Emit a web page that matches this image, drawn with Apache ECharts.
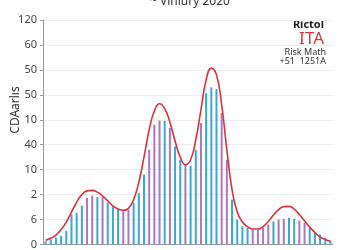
<!DOCTYPE html>
<html><head><meta charset="utf-8">
<script src="https://cdn.jsdelivr.net/npm/echarts@6/dist/echarts.min.js"></script>
<style>html,body{margin:0;padding:0;background:#fff}#c{width:350px;height:250px}</style>
</head><body><div id="c"></div>
<script>
var categories = [];
for (var k = 1; k <= 56; k++) categories.push('W' + k);
var tickLabels = ['0', '6', '2', '10', '40', '10', '50', '50', '60', '120'];
var barValues = [0.13,0.2,0.27,0.35,0.55,1.2,1.27,1.56,1.87,1.96,1.9,1.9,1.67,1.53,1.4,1.33,1.4,1.67,2.07,2.8,3.8,4.8,4.97,4.96,4.67,3.93,3.4,3.2,3.16,3.8,4.87,6.07,6.3,6.23,5.27,3.4,1.8,1.0,0.73,0.67,0.6,0.6,0.67,0.8,0.93,1.0,1.03,1.07,1.03,0.96,0.87,0.67,0.5,0.4,0.27,0.15];
var barGroups = [0,0,0,0,0,0,0,0,1,1,0,1,0,0,0,1,1,0,0,0,1,1,1,0,1,0,0,1,0,0,1,0,0,0,1,1,0,0,0,0,1,1,1,1,0,1,1,0,0,1,1,0,0,0,0,0];
var lineValues = [0.17,0.25,0.38,0.6,0.9,1.3,1.7,2.0,2.15,2.17,2.1,1.95,1.75,1.55,1.42,1.37,1.45,1.8,2.5,3.5,4.6,5.35,5.64,5.45,4.9,4.15,3.5,3.2,3.4,4.2,5.4,6.6,7.07,6.8,5.6,3.8,2.2,1.3,0.9,0.72,0.62,0.62,0.72,0.92,1.18,1.4,1.52,1.53,1.42,1.2,0.95,0.7,0.48,0.3,0.2,0.13];
var groupColors = ['#3ba9cf', '#a977c4'];

var chart = echarts.init(document.getElementById('c'));
chart.setOption({
  animation: false,
  textStyle: {fontFamily: 'Noto Sans'},
  title: {text: '~ Viniury 2020', left: 185, top: -9, textAlign: 'center',
    textStyle: {fontSize: 12, fontWeight: 'normal', color: '#333'}},
  grid: {left: 43, right: 17, top: 20, bottom: 5},
  xAxis: {type: 'category', data: categories, boundaryGap: true,
    axisLine: {lineStyle: {color: '#999'}},
    axisTick: {interval: 7, length: 4, lineStyle: {color: '#999'}},
    axisLabel: {show: false}},
  yAxis: {type: 'value', min: 0, max: 9, interval: 1,
    axisLine: {show: true, lineStyle: {color: '#999'}},
    axisTick: {show: true, length: 3, lineStyle: {color: '#999'}},
    axisLabel: {fontSize: 11, color: '#444', margin: 6,
      formatter: function (v) { return tickLabels[Math.round(v)]; }},
    splitLine: {lineStyle: {color: '#eeeeee'}}},
  graphic: [
    {type: 'text', x: 16, y: 110, rotation: Math.PI / 2,
      style: {text: 'CDAarlıs', fontSize: 12, fill: '#333', align: 'center', verticalAlign: 'middle', fontFamily: 'Noto Sans'}},
    {type: 'text', x: 324, y: 25, style: {text: 'Rictol', fontSize: 11, fill: '#222', align: 'right', verticalAlign: 'middle', fontFamily: 'Noto Sans', fontWeight: 'bold'}},
    {type: 'text', x: 324, y: 39, style: {text: 'ITA', fontSize: 17, fill: '#d9363e', align: 'right', verticalAlign: 'middle', fontFamily: 'Noto Sans'}},
    {type: 'text', x: 326, y: 52, style: {text: 'Risk Math', fontSize: 9, fill: '#333', align: 'right', verticalAlign: 'middle', fontFamily: 'Noto Sans'}},
    {type: 'text', x: 326, y: 61, style: {text: '+51  1251A', fontSize: 9, fill: '#333', align: 'right', verticalAlign: 'middle', fontFamily: 'Noto Sans'}}
  ],
  series: [
    {type: 'bar', barWidth: 2,
      data: barValues.map(function (v, i) { return {value: v, itemStyle: {color: groupColors[barGroups[i]]}}; })},
    {type: 'line', smooth: true, symbol: 'none', data: lineValues,
      lineStyle: {color: '#d8323a', width: 1.6}, z: 5}
  ]
});
</script>
</body></html>
